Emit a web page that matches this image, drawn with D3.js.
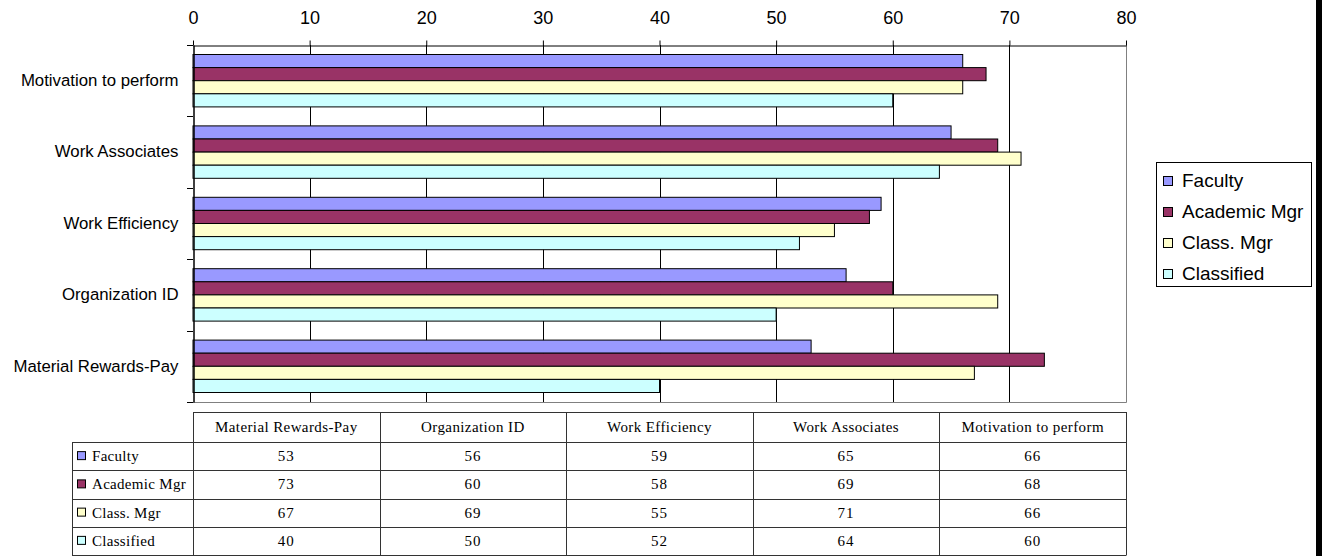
<!DOCTYPE html>
<html>
<head>
<meta charset="utf-8">
<script src="https://cdn.jsdelivr.net/npm/d3@7"></script>
<style>
  html, body { margin: 0; padding: 0; background: #fff; }
  svg { display: block; }
</style>
</head>
<body>
<svg id="chart" width="1323" height="556"></svg>
<script>
// Categories in table order (bottom-to-top in the bar plot)
const categories = ["Material Rewards-Pay", "Organization ID", "Work Efficiency", "Work Associates", "Motivation to perform"];
const seriesNames = ["Faculty", "Academic Mgr", "Class. Mgr", "Classified"];
const faculty     = [53, 56, 59, 65, 66];
const academicMgr = [73, 60, 58, 69, 68];
const classMgr    = [67, 69, 55, 71, 66];
const classified  = [40, 50, 52, 64, 60];
const xTicks = [0, 10, 20, 30, 40, 50, 60, 70, 80];

const seriesValues = [faculty, academicMgr, classMgr, classified];
const colors = ["#9999FF", "#993366", "#FFFFCC", "#CCFFFF"];

const svg = d3.select("#chart");
const sans = "Arial, 'Liberation Sans', sans-serif";
const serif = "'Times New Roman', 'Liberation Serif', serif";

const plot = { left: 193, right: 1126, top: 45, bottom: 402 };

const x = d3.scaleLinear().domain([0, 80]).range([plot.left, plot.right]);
const y0 = d3.scaleBand().domain(categories.slice().reverse()).range([plot.top, plot.bottom]);
const gap = y0.bandwidth() * 0.133;
const y1 = d3.scaleBand().domain(seriesNames).range([gap, y0.bandwidth() - gap]);
const color = d3.scaleOrdinal().domain(seriesNames).range(colors);

// plot frame (right and bottom edges)
svg.append("path")
  .attr("d", `M${plot.left},${plot.bottom + 0.5}H${plot.right + 0.5}V${plot.top}`)
  .attr("fill", "none").attr("stroke", "#808080").attr("stroke-width", 1);

// vertical grid lines
svg.append("g").selectAll("line")
  .data(xTicks.filter(t => t > 0 && t < 80))
  .join("line")
  .attr("x1", d => Math.round(x(d)) + 0.5).attr("x2", d => Math.round(x(d)) + 0.5)
  .attr("y1", plot.top).attr("y2", plot.bottom)
  .attr("stroke", "#000").attr("stroke-width", 1);

// bars
const rows = categories.map((c, i) => ({ category: c, values: seriesNames.map((s, j) => ({ series: s, value: seriesValues[j][i] })) }));
const groups = svg.append("g").selectAll("g")
  .data(rows).join("g")
  .attr("transform", d => `translate(0,${y0(d.category)})`);
groups.selectAll("rect")
  .data(d => d.values).join("rect")
  .attr("x", x(0))
  .attr("y", d => y1(d.series))
  .attr("width", d => x(d.value) - x(0))
  .attr("height", y1.bandwidth())
  .attr("fill", d => color(d.series))
  .attr("stroke", "#000").attr("stroke-width", 1);

// top value axis
const topAxis = svg.append("g")
  .attr("transform", `translate(0,${plot.top + 0.5})`)
  .call(d3.axisTop(x).tickValues(xTicks).tickSize(5).tickSizeOuter(0).tickPadding(17));
topAxis.select(".domain").attr("stroke", "#000");
topAxis.selectAll(".tick line").attr("stroke", "#000");
topAxis.selectAll("text").attr("font-family", sans).attr("font-size", 18).attr("fill", "#000");

// left category axis
const leftAxis = svg.append("g")
  .attr("transform", `translate(${plot.left + 0.5},0)`)
  .call(d3.axisLeft(y0).tickSize(0).tickSizeOuter(0).tickPadding(15));
leftAxis.select(".domain").attr("stroke", "#000").attr("stroke-width", 1.5);
leftAxis.selectAll("text").attr("font-family", sans).attr("font-size", 16.8).attr("fill", "#000");

// category boundary ticks
const bounds = y0.domain().map(c => y0(c)).concat([plot.bottom]);
svg.append("g").selectAll("line")
  .data(bounds).join("line")
  .attr("x1", plot.left - 6).attr("x2", plot.left)
  .attr("y1", d => Math.round(d) + 0.5).attr("y2", d => Math.round(d) + 0.5)
  .attr("stroke", "#000");

// legend
const legend = svg.append("g");
legend.append("rect")
  .attr("x", 1156.5).attr("y", 162.5).attr("width", 155).attr("height", 124)
  .attr("fill", "#fff").attr("stroke", "#000");
const items = legend.selectAll("g.item")
  .data(seriesNames).join("g").attr("class", "item")
  .attr("transform", (d, i) => `translate(1163,${181 + i * 31})`);
items.append("rect")
  .attr("x", 0.5).attr("y", -4.5).attr("width", 9).attr("height", 9)
  .attr("fill", d => color(d)).attr("stroke", "#000");
items.append("text")
  .attr("x", 19).attr("y", 5.5)
  .attr("font-family", sans).attr("font-size", 19).text(d => d);

// data table below the plot
const col = d3.scaleBand().domain(categories).range([plot.left, plot.right]);
const table = { top: 412, header: 30, rowH: 28.25, labelLeft: 72 };
const tg = svg.append("g");
const rowY = i => table.top + table.header + i * table.rowH;
const tableBottom = rowY(seriesNames.length);

// header cells
tg.selectAll("text.head")
  .data(categories).join("text").attr("class", "head")
  .attr("x", d => col(d) + col.bandwidth() / 2)
  .attr("y", table.top + table.header / 2 + 5)
  .attr("text-anchor", "middle")
  .attr("font-family", serif).attr("font-size", 15).attr("letter-spacing", 0.4)
  .text(d => d);

// value cells
seriesNames.forEach((s, i) => {
  tg.selectAll(`text.v${i}`)
    .data(categories).join("text").attr("class", `v${i}`)
    .attr("x", d => col(d) + col.bandwidth() / 2)
    .attr("y", rowY(i) + table.rowH / 2 + 5)
    .attr("text-anchor", "middle")
    .attr("font-family", serif).attr("font-size", 15).attr("letter-spacing", 1)
    .text((d, k) => seriesValues[i][k]);
  tg.append("rect")
    .attr("x", 77.5).attr("y", rowY(i) + table.rowH / 2 - 4.5)
    .attr("width", 8).attr("height", 8)
    .attr("fill", color(s)).attr("stroke", "#000");
  tg.append("text")
    .attr("x", 92).attr("y", rowY(i) + table.rowH / 2 + 5)
    .attr("font-family", serif).attr("font-size", 15).attr("letter-spacing", 0.3)
    .text(s);
});

// table grid lines
const lineColor = "#333";
const hl = (x1, x2, yy) => tg.append("line").attr("x1", x1).attr("x2", x2)
  .attr("y1", Math.round(yy) + 0.5).attr("y2", Math.round(yy) + 0.5).attr("stroke", lineColor);
const vl = (xx, y1v, y2v) => tg.append("line").attr("x1", Math.round(xx) + 0.5).attr("x2", Math.round(xx) + 0.5)
  .attr("y1", y1v).attr("y2", y2v).attr("stroke", lineColor);
hl(plot.left, plot.right, table.top);
for (let i = 0; i <= seriesNames.length; i++) {
  hl(table.labelLeft, plot.right, rowY(i));
}
vl(table.labelLeft, rowY(0), tableBottom + 0.5);
categories.forEach(c => vl(col(c), table.top, tableBottom + 0.5));
vl(plot.right, table.top, tableBottom + 0.5);

// right edge bar
svg.append("rect").attr("x", 1316).attr("y", 0).attr("width", 6).attr("height", 556).attr("fill", "#000");
</script>
</body>
</html>
